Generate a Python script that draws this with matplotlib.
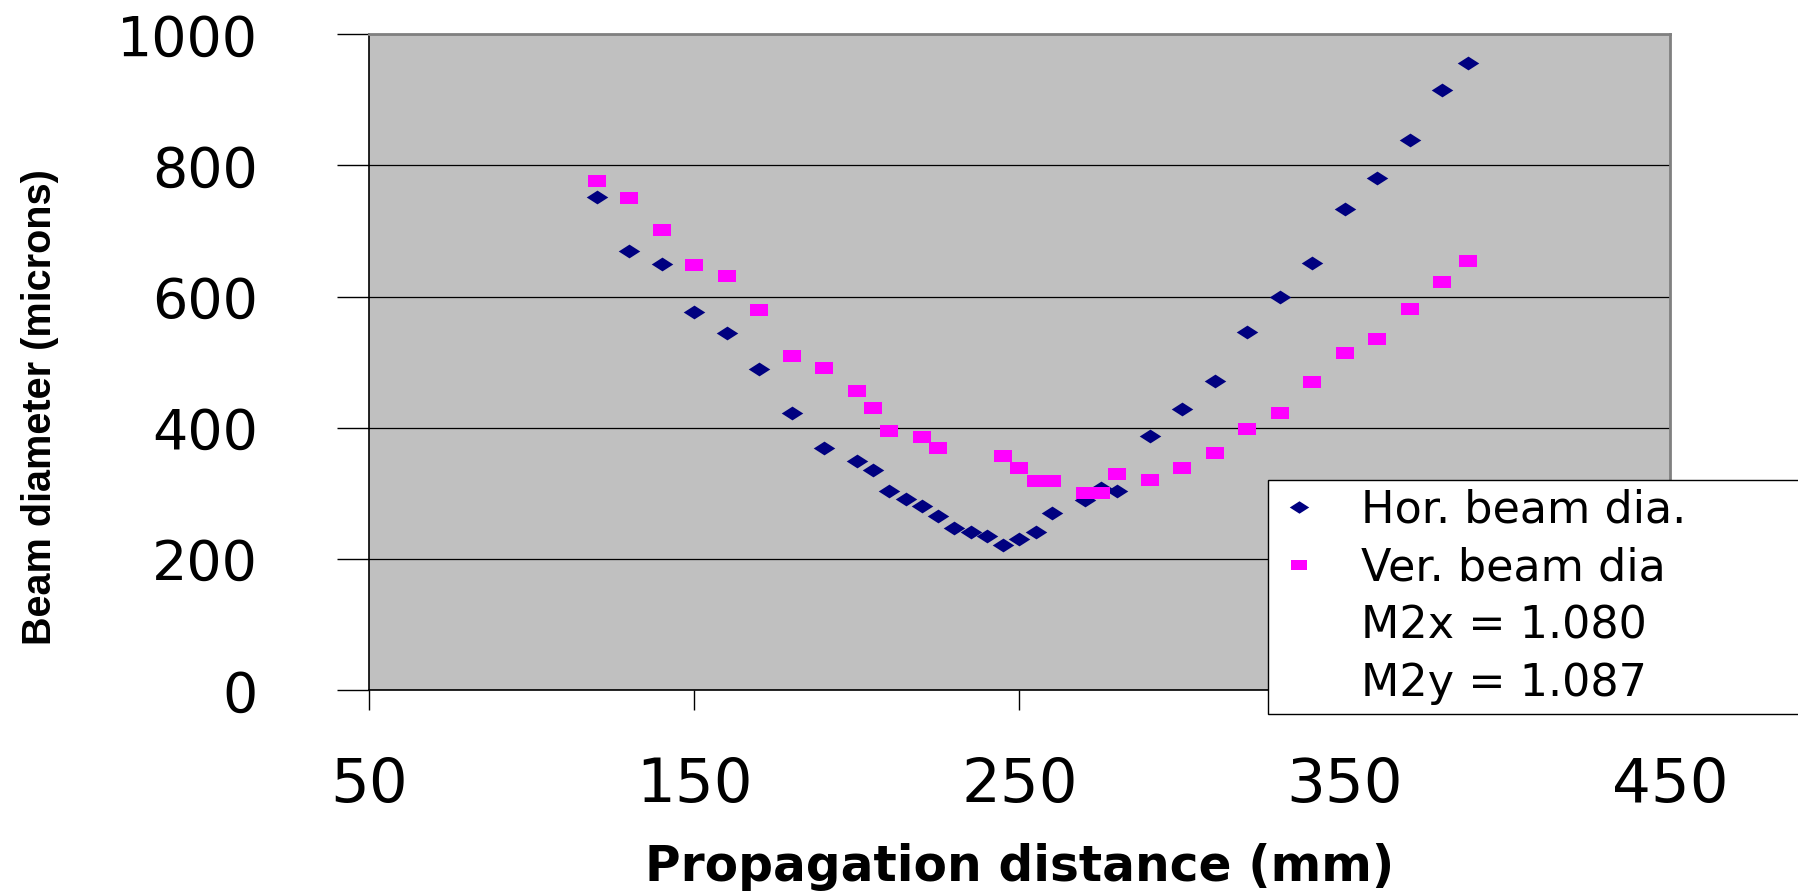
import matplotlib
matplotlib.use("Agg")
import matplotlib.pyplot as plt
from matplotlib.lines import Line2D

# ---- data ----
hor_x = [120, 130, 140, 150, 160, 170, 180, 190, 200, 205, 210, 215, 220, 225,
         230, 235, 240, 245, 250, 255, 260, 270, 275, 280, 290, 300, 310, 320,
         330, 340, 350, 360, 370, 380, 388]
hor_y = [752, 670, 650, 577, 545, 490, 422, 370, 350, 336, 304, 292, 281, 266,
         247, 242, 235, 221, 230, 242, 270, 290, 309, 304, 387, 429, 471, 546,
         599, 652, 734, 781, 839, 915, 956]
ver_x = [120, 130, 140, 150, 160, 170, 180, 190, 200, 205, 210, 220, 225, 245,
         250, 255, 260, 270, 275, 280, 290, 300, 310, 320, 330, 340, 350, 360,
         370, 380, 388]
ver_y = [777, 751, 701, 649, 631, 580, 510, 492, 456, 431, 395, 386, 369, 357,
         339, 319, 319, 301, 301, 329, 321, 339, 361, 399, 422, 470, 514, 536,
         581, 622, 654]
x_ticks = [50, 150, 250, 350, 450]
y_ticks = [0, 200, 400, 600, 800, 1000]
legend_labels = ["Hor. beam dia.", "Ver. beam dia", "M2x = 1.080", "M2y = 1.087"]
x_label = "Propagation distance (mm)"
y_label = "Beam diameter (microns)"

# ---- styling ----
NAVY = "#000080"
PINK = "#FF00FF"
PLOT_BG = "#C0C0C0"

W, H = 1799, 893
fig = plt.figure(figsize=(W / 100, H / 100), dpi=100)
fig.patch.set_facecolor("white")

left, right = 369 / W, 1670 / W
bottom, top = 1 - 690.3 / H, 1 - 34.3 / H
ax = fig.add_axes([left, bottom, right - left, top - bottom])
ax.set_facecolor(PLOT_BG)

diamond = [(-1, 0), (0, 0.64), (1, 0), (0, -0.64), (-1, 0)]
rect = [(-1, -0.62), (1, -0.62), (1, 0.62), (-1, 0.62), (-1, -0.62)]

ax.plot(hor_x, hor_y, linestyle="none", marker=diamond, markersize=15.5,
        color=NAVY, markeredgewidth=0, zorder=3)
ax.plot(ver_x, ver_y, linestyle="none", marker=rect, markersize=13.5,
        color=PINK, markeredgewidth=0, zorder=3)

ax.set_xlim(50, 450)
ax.set_ylim(0, 1000)
ax.set_xticks(x_ticks)
ax.set_yticks(y_ticks)
ax.set_xticklabels([str(v) for v in x_ticks])
ax.set_yticklabels([str(v) for v in y_ticks])

ax.yaxis.grid(True, color="black", linewidth=0.9, zorder=1)
ax.set_axisbelow(True)

for s in ("left", "bottom"):
    ax.spines[s].set_color("black")
    ax.spines[s].set_linewidth(1.2)
for s in ("top", "right"):
    ax.spines[s].set_color("#808080")
    ax.spines[s].set_linewidth(2)

ax.tick_params(axis="y", direction="out", length=23, width=1, color="black",
               pad=57, labelsize=40)
ax.tick_params(axis="x", direction="out", length=14.5, width=1, color="black",
               pad=33, labelsize=44)
for lab in ax.get_xticklabels() + ax.get_yticklabels():
    lab.set_fontfamily("DejaVu Sans")

fig.text((369 + 1670) / 2 / W, 1 - 867 / H, x_label, ha="center", va="center",
         fontsize=35, fontweight="bold", family=["DejaVu Sans"])
fig.text(40 / W, 1 - 407 / H, y_label, ha="center", va="center", rotation=90,
         fontsize=28.5, fontweight="bold",
         family=["Liberation Sans", "DejaVu Sans"])

handles = [
    Line2D([], [], linestyle="none", marker=diamond, markersize=14, color=NAVY,
           markeredgewidth=0),
    Line2D([], [], linestyle="none", marker=rect, markersize=12, color=PINK,
           markeredgewidth=0),
    Line2D([], [], linestyle="none", marker="none"),
    Line2D([], [], linestyle="none", marker="none"),
]
leg = fig.legend(handles, legend_labels, loc="upper left",
                 bbox_to_anchor=(1268 / W, 1 - 712 / H, 560 / W, 232 / H),
                 mode="expand", frameon=True, fancybox=False, framealpha=1,
                 edgecolor="black", facecolor="white",
                 prop={"family": "DejaVu Sans", "size": 32},
                 handlelength=1.0, handletextpad=0.9, labelspacing=0.33,
                 borderpad=0.2, borderaxespad=0)
leg.get_frame().set_linewidth(1.0)

fig.savefig("out.png", dpi=100, facecolor="white")
